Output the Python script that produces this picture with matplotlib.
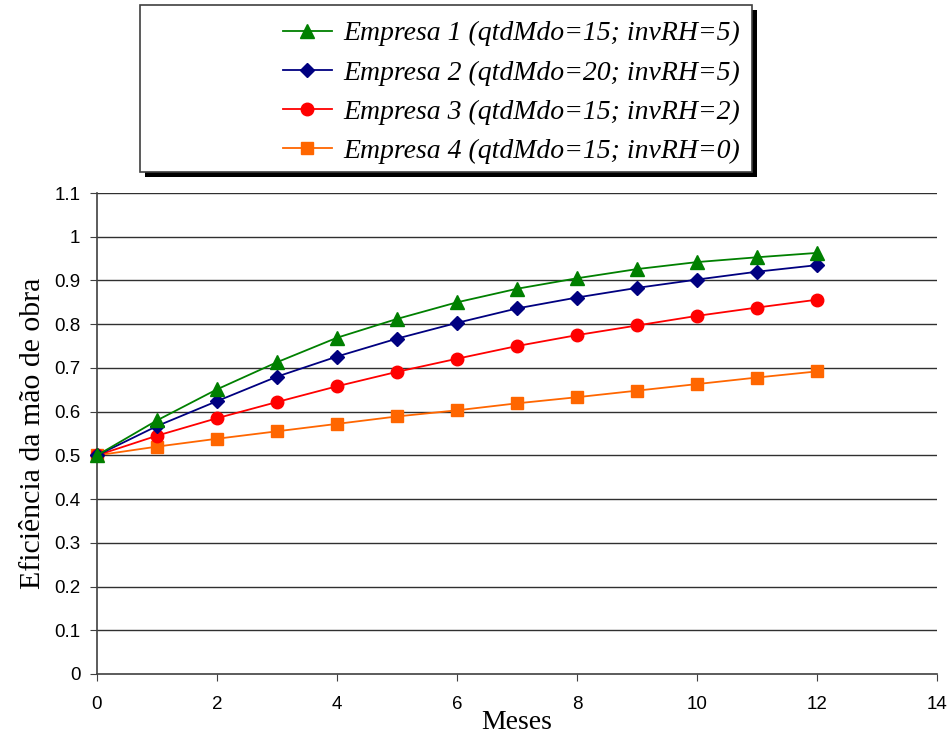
import matplotlib
matplotlib.use("Agg")
import matplotlib.pyplot as plt
from matplotlib.patches import Rectangle
from matplotlib.lines import Line2D

months = list(range(13))
emp1 = [0.500, 0.580, 0.651, 0.713, 0.769, 0.812, 0.850, 0.881, 0.905, 0.926, 0.942, 0.953, 0.963]
emp2 = [0.500, 0.567, 0.624, 0.680, 0.726, 0.767, 0.803, 0.836, 0.861, 0.883, 0.902, 0.920, 0.935]
emp3 = [0.500, 0.545, 0.585, 0.622, 0.658, 0.691, 0.721, 0.750, 0.775, 0.797, 0.819, 0.838, 0.856]
emp4 = [0.500, 0.520, 0.538, 0.555, 0.572, 0.589, 0.603, 0.619, 0.633, 0.648, 0.663, 0.678, 0.692]
labels = ["Empresa 1 (qtdMdo=15; invRH=5)",
          "Empresa 2 (qtdMdo=20; invRH=5)",
          "Empresa 3 (qtdMdo=15; invRH=2)",
          "Empresa 4 (qtdMdo=15; invRH=0)"]
yticks = [0, 0.1, 0.2, 0.3, 0.4, 0.5, 0.6, 0.7, 0.8, 0.9, 1.0, 1.1]
ytick_labels = ["0", "0.1", "0.2", "0.3", "0.4", "0.5", "0.6", "0.7", "0.8", "0.9", "1", "1.1"]
xticks = [0, 2, 4, 6, 8, 10, 12, 14]

W, H = 950, 738
fig = plt.figure(figsize=(W / 100, H / 100), dpi=100)
ax = fig.add_axes([97 / W, 1 - 674 / H, (937 - 97) / W, (674 - 193) / H])

series = [
    (emp4, "#FF6600", "s", 9),
    (emp3, "#FF0000", "o", 9),
    (emp2, "#000080", "D", 7.5),
    (emp1, "#008000", "^", 10),
]
for vals, col, mk, ms in series:
    ax.plot(months, vals, color=col, marker=mk, markersize=ms, lw=1.3,
            markeredgecolor=col, clip_on=False, zorder=3)

ax.set_xlim(0, 14)
ax.set_ylim(0, 1.1)
ax.set_xticks(xticks)
ax.set_yticks(yticks)
ax.set_yticklabels(ytick_labels)
for yv in yticks[1:]:
    ax.axhline(yv, color="#303030", lw=1.0, zorder=1)
for s in ["top", "right"]:
    ax.spines[s].set_visible(False)
for s in ["left", "bottom"]:
    ax.spines[s].set_color("#404040")
    ax.spines[s].set_linewidth(1.2)
ax.tick_params(axis="both", direction="out", length=5, color="#404040",
               labelsize=13.5, labelcolor="black")
for t in ax.get_xticklabels() + ax.get_yticklabels():
    t.set_fontfamily("Liberation Sans")
ax.tick_params(axis="x", pad=11)
ax.tick_params(axis="y", pad=7)
ax.set_xlabel("Meses", fontfamily="Liberation Serif", fontsize=20, labelpad=-2)
ax.set_ylabel("Eficiência da mão de obra", fontfamily="Liberation Serif", fontsize=21.5, labelpad=6)

# legend box with shadow
bx0, bx1, by0, by1 = 140, 752, 5, 172
fig.patches.append(Rectangle(((bx0 + 5) / W, 1 - (by1 + 5) / H), (bx1 - bx0) / W, (by1 - by0) / H,
                             transform=fig.transFigure, facecolor="black", edgecolor="none", zorder=0))
fig.patches.append(Rectangle((bx0 / W, 1 - by1 / H), (bx1 - bx0) / W, (by1 - by0) / H,
                             transform=fig.transFigure, facecolor="white", edgecolor="#404040",
                             lw=1.2, zorder=1))
handles = []
for vals, col, mk, ms in reversed(series):
    handles.append(Line2D([], [], color=col, marker=mk, markersize=ms, lw=1.3, markeredgecolor=col))
leg = fig.legend(handles, labels, loc="upper left", bbox_to_anchor=(283 / W, 1 - 21 / H),
                 frameon=False, prop={"family": "Liberation Serif", "style": "italic", "size": 20},
                 handlelength=1.76, handletextpad=0.4, labelspacing=0.49, borderaxespad=0,
                 borderpad=0)

fig.savefig("out.png", dpi=100)
